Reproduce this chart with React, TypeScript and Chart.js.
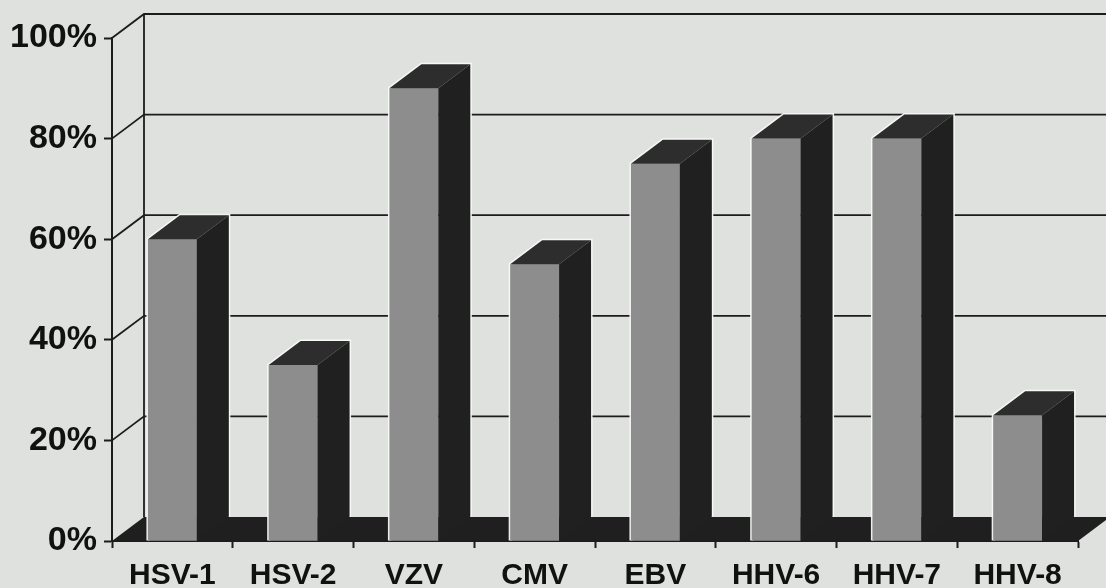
import React, { useEffect, useRef } from 'react';
import { Chart, registerables } from 'chart.js';

Chart.register(...registerables);

// ---- data ----
const categories = ['HSV-1', 'HSV-2', 'VZV', 'CMV', 'EBV', 'HHV-6', 'HHV-7', 'HHV-8'];
const carriers = [60, 35, 90, 55, 75, 80, 80, 25];
const yTicks = [0, 20, 40, 60, 80, 100];

// ---- style ----
const W = 1106;
const H = 588;
const DX = 32;
const DY = -24;
const BG = '#dfe1de';
const FRONT = '#8c8d8c';
const TOP = '#2c2d2c';
const SIDE = '#1f201f';
const FLOOR = '#1e1f1e';
const LINE = '#1c1c1c';
const FONT = "'Liberation Sans', Arial, Helvetica, sans-serif";

const threeD = {
  id: 'threeD',
  beforeDraw(chart: any) {
    const { ctx, chartArea, scales } = chart;
    const { left, right, bottom } = chartArea;
    const y = scales.y;
    ctx.save();
    ctx.fillStyle = BG;
    ctx.fillRect(0, 0, chart.width, chart.height);
    // floor
    ctx.fillStyle = FLOOR;
    ctx.beginPath();
    ctx.moveTo(left, bottom);
    ctx.lineTo(right, bottom);
    ctx.lineTo(right + DX, bottom + DY);
    ctx.lineTo(left + DX, bottom + DY);
    ctx.closePath();
    ctx.fill();
    // walls
    ctx.strokeStyle = LINE;
    ctx.lineWidth = 1.8;
    const top0 = y.getPixelForValue(yTicks[yTicks.length - 1]);
    ctx.beginPath();
    ctx.moveTo(left + DX, top0 + DY);
    ctx.lineTo(left + DX, bottom + DY);
    ctx.stroke();
    yTicks.forEach((v) => {
      if (v === 0) return;
      const py = y.getPixelForValue(v);
      ctx.beginPath();
      ctx.moveTo(left, py);
      ctx.lineTo(left + DX, py + DY);
      ctx.lineTo(right + DX, py + DY);
      ctx.stroke();
    });
    ctx.restore();
  },
  afterDatasetsDraw(chart: any) {
    const { ctx } = chart;
    const meta = chart.getDatasetMeta(0);
    ctx.save();
    meta.data.forEach((el: any) => {
      const { x, y, base, width } = el.getProps(['x', 'y', 'base', 'width'], true);
      const l = x - width / 2;
      const r = x + width / 2;
      // light halo (scan look)
      ctx.strokeStyle = 'rgba(248,250,248,0.95)';
      ctx.lineWidth = 3;
      ctx.lineJoin = 'miter';
      ctx.beginPath();
      ctx.moveTo(l, base);
      ctx.lineTo(l, y);
      ctx.lineTo(l + DX, y + DY);
      ctx.lineTo(r + DX, y + DY);
      ctx.lineTo(r + DX, base + DY);
      ctx.stroke();
      // front
      ctx.fillStyle = FRONT;
      ctx.fillRect(l, y, width, base - y);
      // top
      ctx.fillStyle = TOP;
      ctx.beginPath();
      ctx.moveTo(l, y);
      ctx.lineTo(r, y);
      ctx.lineTo(r + DX, y + DY);
      ctx.lineTo(l + DX, y + DY);
      ctx.closePath();
      ctx.fill();
      // side
      ctx.fillStyle = SIDE;
      ctx.beginPath();
      ctx.moveTo(r, y);
      ctx.lineTo(r + DX, y + DY);
      ctx.lineTo(r + DX, base + DY);
      ctx.lineTo(r, base);
      ctx.closePath();
      ctx.fill();
    });
    ctx.restore();
  },
};

export default function App() {
  const ref = useRef<HTMLCanvasElement | null>(null);
  useEffect(() => {
    if (!ref.current) return;
    const chart = new Chart(ref.current, {
      type: 'bar',
      data: {
        labels: categories,
        datasets: [
          {
            data: carriers,
            backgroundColor: FRONT,
            borderWidth: 0,
            categoryPercentage: 1,
            barPercentage: 0.405,
          },
        ],
      },
      options: {
        responsive: false,
        animation: false,
        events: [],
        layout: { padding: { top: 38, right: 28, left: 0, bottom: 0 } },
        plugins: { legend: { display: false }, tooltip: { enabled: false } },
        scales: {
          x: {
            grid: {
              drawOnChartArea: false,
              drawTicks: true,
              tickLength: 7,
              tickWidth: 2,
              color: LINE,
              offset: true,
            },
            border: { display: true, color: LINE, width: 2 },
            ticks: {
              color: '#111',
              padding: 10,
              maxRotation: 0,
              autoSkip: false,
              font: { family: FONT, size: 30, weight: 'bold' },
            },
            afterFit: (s: any) => {
              s.height = 47;
            },
          },
          y: {
            min: 0,
            max: 100,
            afterBuildTicks: (s: any) => {
              s.ticks = yTicks.map((v) => ({ value: v }));
            },
            grid: {
              drawOnChartArea: false,
              drawTicks: true,
              tickLength: 8,
              tickWidth: 2,
              color: LINE,
            },
            border: { display: true, color: LINE, width: 2 },
            ticks: {
              color: '#111',
              padding: 7,
              font: { family: FONT, size: 34, weight: 'bold' },
              callback: (v: any) => v + '%',
            },
            afterFit: (s: any) => {
              s.width = 112;
            },
          },
        },
      },
      plugins: [threeD],
    });
    return () => chart.destroy();
  }, []);
  return (
    <div style={{ position: 'fixed', left: 0, top: 0, width: W, height: H, background: BG }}>
      <canvas ref={ref} width={W} height={H} style={{ width: W, height: H, display: 'block' }} />
    </div>
  );
}
